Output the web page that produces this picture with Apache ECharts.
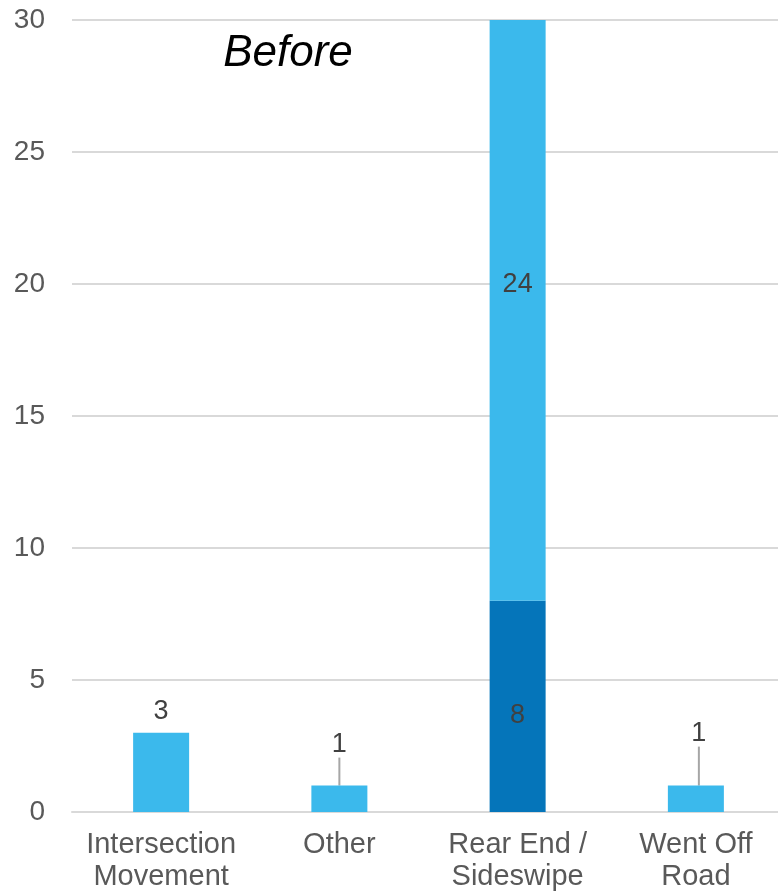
<!DOCTYPE html>
<html>
<head>
<meta charset="utf-8">
<style>
  html, body { margin: 0; padding: 0; background: #ffffff; }
  #chart { width: 778px; height: 895px; }
</style>
<script src="https://cdn.jsdelivr.net/npm/echarts@6/dist/echarts.min.js"></script>
</head>
<body>
<div id="chart"></div>
<script>
// Crash types and counts for the "Before" period
const categories = ['Intersection\nMovement', 'Other', 'Rear End /\nSideswipe', 'Went Off\nRoad'];
const darkValues = [null, null, 8, null];
const lightValues = [3, 1, 24, 1];
const yTicks = [0, 5, 10, 15, 20, 25, 30];

// Label placement tweaks per category (pixel shifts)
//  1 and 3 are callouts lifted above their short bars;
//  2 runs past the axis top, so its label is kept at the full segment's midpoint
const lightLabelShift = {
  1: { dx: 0, dy: -20 },
  2: { dx: 0, dy: -26 },
  3: { dx: 3, dy: -31 }
};
const calloutItems = [1, 3];

const chart = echarts.init(document.getElementById('chart'), null, { renderer: 'canvas' });

const fontFamily = '"Liberation Sans", Arial, sans-serif';
const labelStyle = { color: '#404040', fontSize: 27, fontFamily: fontFamily };

const lightData = lightValues.map((v, i) => {
  const item = { value: v };
  if (i === 2) {
    item.label = { position: 'inside' };
  }
  item.labelLine = { show: calloutItems.indexOf(i) >= 0 };
  return item;
});

chart.setOption({
  animation: false,
  grid: {
    left: 72, width: 713, top: 20, bottom: 83,
    containLabel: false,
    outerBoundsMode: 'none'
  },
  graphic: [{
    type: 'text',
    x: 288,
    y: 54,
    style: {
      text: 'Before',
      fill: '#000000',
      font: 'italic 44px ' + fontFamily,
      textAlign: 'center',
      textVerticalAlign: 'middle'
    }
  }],
  xAxis: {
    type: 'category',
    data: categories,
    axisTick: { show: false },
    axisLine: { show: true, lineStyle: { color: '#d9d9d9', width: 2 } },
    axisLabel: {
      color: '#595959',
      fontSize: 29,
      lineHeight: 32,
      fontFamily: fontFamily,
      margin: 17,
      interval: 0
    }
  },
  yAxis: {
    type: 'value',
    min: yTicks[0],
    max: yTicks[yTicks.length - 1],
    interval: yTicks[1] - yTicks[0],
    axisLine: { show: false },
    axisTick: { show: false },
    splitLine: { lineStyle: { color: '#d9d9d9', width: 2 } },
    axisLabel: {
      color: '#595959',
      fontSize: 28,
      fontFamily: fontFamily,
      margin: 27
    }
  },
  series: [
    {
      name: 'dark',
      type: 'bar',
      stack: 'total',
      data: darkValues,
      barWidth: 56,
      itemStyle: { color: '#0575BA' },
      label: {
        show: true,
        position: 'inside',
        offset: [0, 9],
        ...labelStyle
      }
    },
    {
      name: 'light',
      type: 'bar',
      stack: 'total',
      data: lightData,
      barWidth: 56,
      itemStyle: { color: '#3BB9EC' },
      label: {
        show: true,
        position: 'top',
        distance: 8,
        ...labelStyle
      },
      labelLine: {
        show: false,
        lineStyle: { color: '#a6a6a6', width: 2 }
      },
      labelLayout: function (params) {
        const s = lightLabelShift[params.dataIndex];
        return s ? { dx: s.dx, dy: s.dy } : {};
      }
    }
  ]
});
</script>
</body>
</html>
